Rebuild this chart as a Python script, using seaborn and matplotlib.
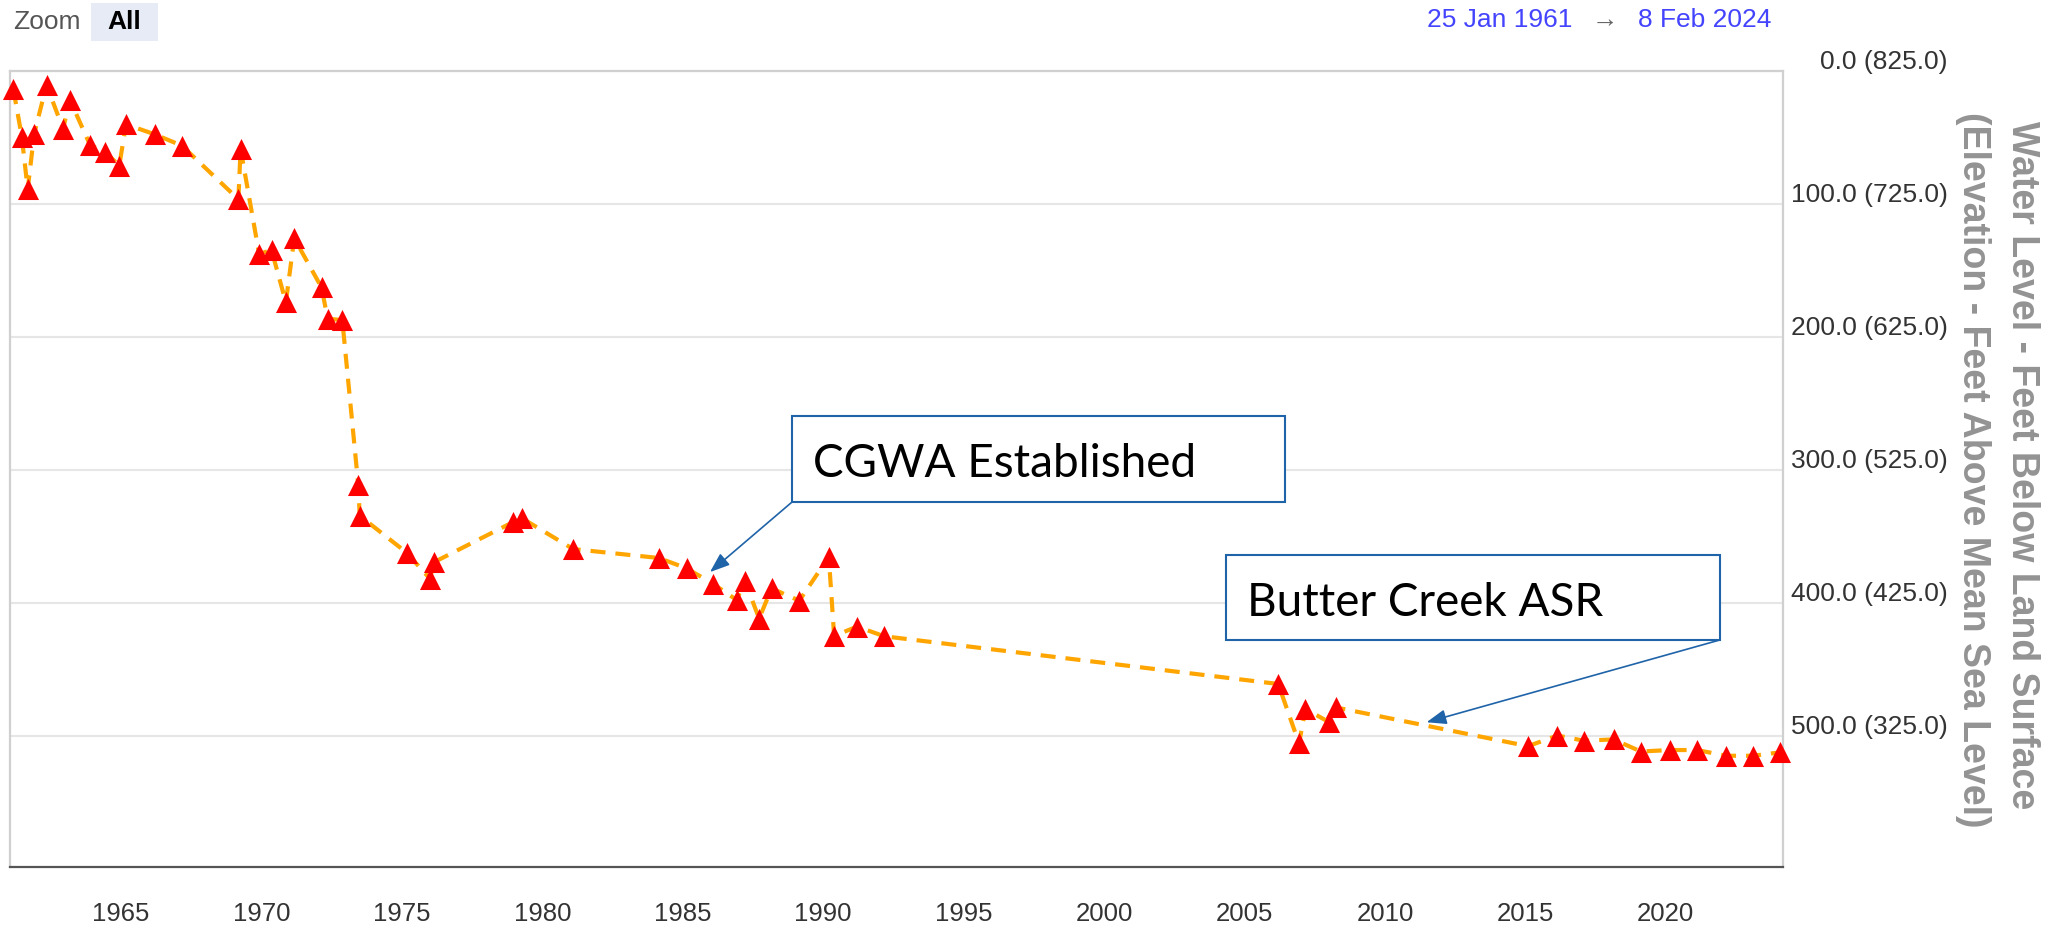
import matplotlib
matplotlib.use("Agg")
import matplotlib.pyplot as plt
from matplotlib.patches import Rectangle
from matplotlib.transforms import ScaledTranslation
import pandas as pd
import seaborn as sns


# measurement dates (decimal years) and depth to water (ft below land surface)
years = [
    1961.17, 1961.47, 1961.68, 1961.91, 1962.35, 1962.94, 1963.18, 1963.90,
    1964.43, 1964.94, 1965.18, 1966.21, 1967.17, 1969.18, 1969.26, 1969.92,
    1970.36, 1970.87, 1971.17, 1972.14, 1972.36, 1972.88, 1973.45, 1973.50,
    1975.17, 1976.00, 1976.15, 1978.97, 1979.26, 1981.10, 1984.15, 1985.14,
    1986.09, 1986.92, 1987.21, 1987.72, 1988.16, 1989.15, 1990.20, 1990.39,
    1991.21, 1992.17, 2006.20, 2006.94, 2007.17, 2008.00, 2008.24, 2015.09,
    2016.14, 2017.09, 2018.14, 2019.11, 2020.14, 2021.11, 2022.15, 2023.10,
    2024.05,
]
depths = [
    13.8, 49.4, 89.0, 47.4, 10.5, 43.6, 21.6, 55.7,
    60.7, 71.2, 40.1, 47.7, 56.2, 96.5, 58.7, 137.7,
    134.7, 174.0, 125.9, 162.8, 186.4, 187.4, 311.7, 334.6,
    362.4, 382.0, 369.5, 339.3, 336.3, 359.7, 366.4, 374.2,
    386.0, 398.0, 383.5, 412.0, 389.3, 398.5, 365.6, 425.0,
    418.0, 425.3, 461.2, 505.9, 480.0, 489.8, 478.8, 508.0,
    500.0, 503.9, 502.9, 512.0, 510.9, 510.9, 515.2, 515.2,
    512.7,
]

land_surface_elev = 825.0
depth_ticks = [0, 100, 200, 300, 400, 500]
year_ticks = [1965, 1970, 1975, 1980, 1985, 1990, 1995, 2000, 2005, 2010, 2015, 2020]
date_from = "25 Jan 1961"
date_to = "8 Feb 2024"
y_title = "Water Level - Feet Below Land Surface"
y_subtitle = "(Elevation - Feet Above Mean Sea Level)"

# callouts: text, box (x0, x1, top, bottom), arrow start, arrow tip
callout_texts = ["CGWA Established", "Butter Creek ASR"]
callout_boxes = [(1988.89, 2006.44, 259.6, 324.3), (2004.34, 2021.92, 364.2, 428.1)]
callout_tails = [(1988.89, 324.3), (2021.92, 428.1)]
callout_tips = [(1985.97, 377.0), (2011.48, 490.0)]

BLUE = "#1f63a8"


def draw_series(ax, data: pd.DataFrame) -> None:
    sns.lineplot(
        data=data, x="year", y="depth", ax=ax,
        sort=False, estimator=None,
        color="#ffa500", linewidth=3.0, linestyle=(0, (3.6, 2.4)),
        zorder=2,
    )
    sns.scatterplot(
        data=data, x="year", y="depth", ax=ax,
        marker="^", s=230, color="#ff0000", linewidth=0, zorder=3,
        clip_on=False,
    )


def style_axes(fig, ax) -> None:
    ax.set_xlim(1961.05, 2024.17)
    ax.set_ylim(598.9, 0)
    ax.set_xlabel("")
    ax.set_ylabel("")

    ax.set_xticks(year_ticks)
    ax.set_xticklabels([str(y) for y in year_ticks])
    ax.tick_params(axis="x", direction="out", length=14.4, width=1.1,
                   color="#555555", pad=10, labelsize=18.5, labelcolor="#333333")

    ax.yaxis.tick_right()
    ax.set_yticks(depth_ticks)
    ax.set_yticklabels([f"{d:.1f} ({land_surface_elev - d:.1f})" for d in depth_ticks])
    ax.tick_params(axis="y", length=0, pad=118.8, labelsize=19, labelcolor="#333333")
    for lbl in ax.get_yticklabels():
        lbl.set_horizontalalignment("right")
        lbl.set_transform(lbl.get_transform() + ScaledTranslation(0, 9 / 72, fig.dpi_scale_trans))

    ax.grid(axis="y", color="#e6e6e6", linewidth=1.5)
    ax.grid(axis="x", visible=False)
    ax.set_axisbelow(True)

    for side in ["top", "left", "right"]:
        ax.spines[side].set_color("#d0d0d0")
        ax.spines[side].set_linewidth(1.6)
    ax.spines["bottom"].set_color("#555555")
    ax.spines["bottom"].set_linewidth(1.6)


def add_callouts(ax) -> None:
    for text, box, tail, tip in zip(callout_texts, callout_boxes, callout_tails, callout_tips):
        x0, x1, top, bottom = box
        ax.add_patch(Rectangle((x0, top), x1 - x0, bottom - top,
                               facecolor="white", edgecolor=BLUE, linewidth=1.5, zorder=4))
        ax.text(x0 + 0.75, (top + bottom) / 2 + 3, text, ha="left", va="center",
                fontsize=33, family="Lato", color="black", zorder=5)
        ax.annotate("", xy=tip, xytext=tail,
                    arrowprops=dict(arrowstyle="-|>,head_length=0.4,head_width=0.15",
                                    color=BLUE, lw=1.2, mutation_scale=30,
                                    shrinkA=0, shrinkB=0),
                    zorder=5)


def add_header(fig) -> None:
    W, H = 2049, 929
    fig.text(13 / W, 1 - 22 / H, "Zoom", ha="left", va="center", fontsize=19, color="#555555")
    fig.patches.append(Rectangle((91 / W, 1 - 42 / H), 67 / W, 38 / H,
                                 transform=fig.transFigure, facecolor="#e6ebf5",
                                 edgecolor="none", figure=fig))
    fig.text(124 / W, 1 - 22 / H, "All", ha="center", va="center", fontsize=19,
             fontweight="bold", color="black")
    fig.text(1572 / W, 1 - 20 / H, date_from, ha="right", va="center", fontsize=19, color="#4444ff")
    fig.text(1605 / W, 1 - 20 / H, "\u2192", ha="center", va="center", fontsize=19, color="#666666")
    fig.text(1771 / W, 1 - 20 / H, date_to, ha="right", va="center", fontsize=19, color="#4444ff")

    fig.text(2022 / W, 1 - 465 / H, y_title, rotation=270, ha="center", va="center",
             fontsize=27, fontweight="bold", color="#939393")
    fig.text(1973 / W, 1 - 470 / H, y_subtitle, rotation=270, ha="center", va="center",
             fontsize=27, fontweight="bold", color="#939393")


def main():
    sns.set_style("white")
    plt.rcParams["font.family"] = ["Liberation Sans", "DejaVu Sans"]

    data = pd.DataFrame({"year": years, "depth": depths})

    fig = plt.figure(figsize=(20.49, 9.29), dpi=100)
    ax = fig.add_axes([10 / 2049, 1 - 868 / 929, 1773 / 2049, 796 / 929])

    draw_series(ax, data)
    style_axes(fig, ax)
    add_callouts(ax)
    add_header(fig)

    fig.savefig("out.png", dpi=100, facecolor="white")


if __name__ == "__main__":
    main()
